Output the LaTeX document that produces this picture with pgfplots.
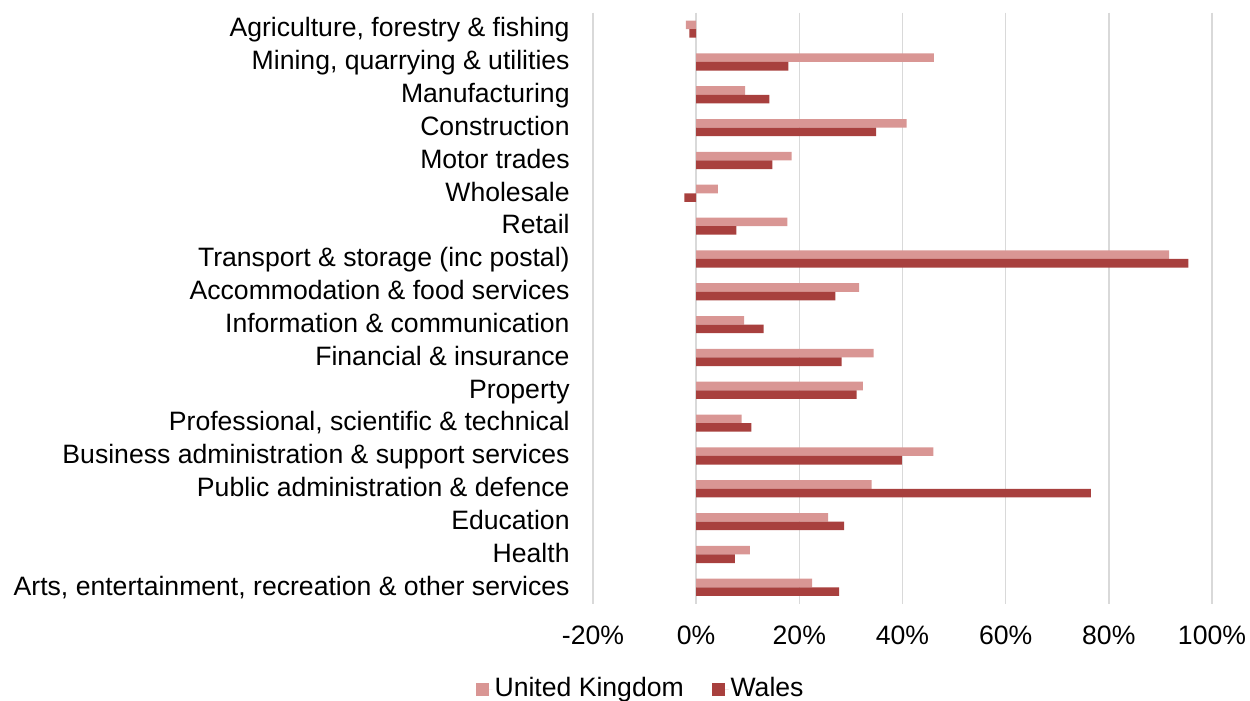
\documentclass[border=0pt]{standalone}
\usepackage{pgfplots}
\pgfplotsset{compat=1.18}
\usepackage{fontspec}
\setmainfont{Liberation Sans}
\definecolor{ukcol}{RGB}{217,150,148}
\definecolor{wacol}{RGB}{168,64,62}
\definecolor{gridc}{RGB}{217,217,217}
\begin{document}
\begin{tikzpicture}[font=\fontsize{13.3}{16}\selectfont]
\begin{axis}[
  scale only axis,
  width=309.5pt, height=295.5pt,
  xbar=0pt, bar width=4.3pt,
  xmin=-20, xmax=100,
  ymin=-0.5, ymax=17.5,
  y dir=reverse,
  xtick={-20,0,20,40,60,80,100},
  xticklabels={{-20\%},{0\%},{20\%},{40\%},{60\%},{80\%},{100\%}},
  ytick={0,...,17},
  yticklabels={{Agriculture, forestry \& fishing},{Mining, quarrying \& utilities},{Manufacturing},{Construction},{Motor trades},{Wholesale},{Retail},{Transport \& storage (inc postal)},{Accommodation \& food services},{Information \& communication},{Financial \& insurance},{Property},{Professional, scientific \& technical},{Business administration \& support services},{Public administration \& defence},{Education},{Health},{Arts, entertainment, recreation \& other services}},
  axis line style={draw=none},
  major tick length=0pt,
  xmajorgrids, grid style={gridc, line width=0.8pt},
  yticklabel style={inner sep=0pt, xshift=-11.5pt, text height=9.6pt, text depth=2.8pt, yshift=-0.5pt},
  xticklabel style={inner sep=0pt, yshift=-11pt},
  legend columns=2,
  legend style={draw=none, fill=none, at={(rel axis cs:0.077,-0.146)}, anchor=center,
    /tikz/every even column/.append style={column sep=13pt},
    nodes={inner sep=1pt, text height=9.6pt, text depth=2.8pt}},
  legend image code/.code={\fill[#1, draw=none] (0pt,-3.0pt) rectangle (6.6pt,3.6pt); \path (0pt,0pt) -- (8.4pt,0pt);},
]
\addplot[fill=ukcol, draw=none, bar shift=2.15pt] coordinates {
(-2.0,0) (46.1,1) (9.5,2) (40.8,3) (18.5,4) (4.2,5) (17.7,6) (91.7,7) (31.6,8) (9.3,9) (34.4,10) (32.3,11) (8.8,12) (46.0,13) (34.0,14) (25.6,15) (10.4,16) (22.5,17)};
\addplot[fill=wacol, draw=none, bar shift=-2.15pt] coordinates {
(-1.3,0) (17.9,1) (14.2,2) (34.9,3) (14.8,4) (-2.3,5) (7.8,6) (95.4,7) (27.0,8) (13.1,9) (28.2,10) (31.1,11) (10.7,12) (39.9,13) (76.5,14) (28.7,15) (7.5,16) (27.7,17)};
\legend{United Kingdom, Wales}
\coordinate (ll) at (rel axis cs:0,0);
\end{axis}
\pgfresetboundingbox
\path ([shift={(-296.5pt,-48.65pt)}]ll) rectangle ([shift={(328.5pt,301.85pt)}]ll);
\end{tikzpicture}
\end{document}
